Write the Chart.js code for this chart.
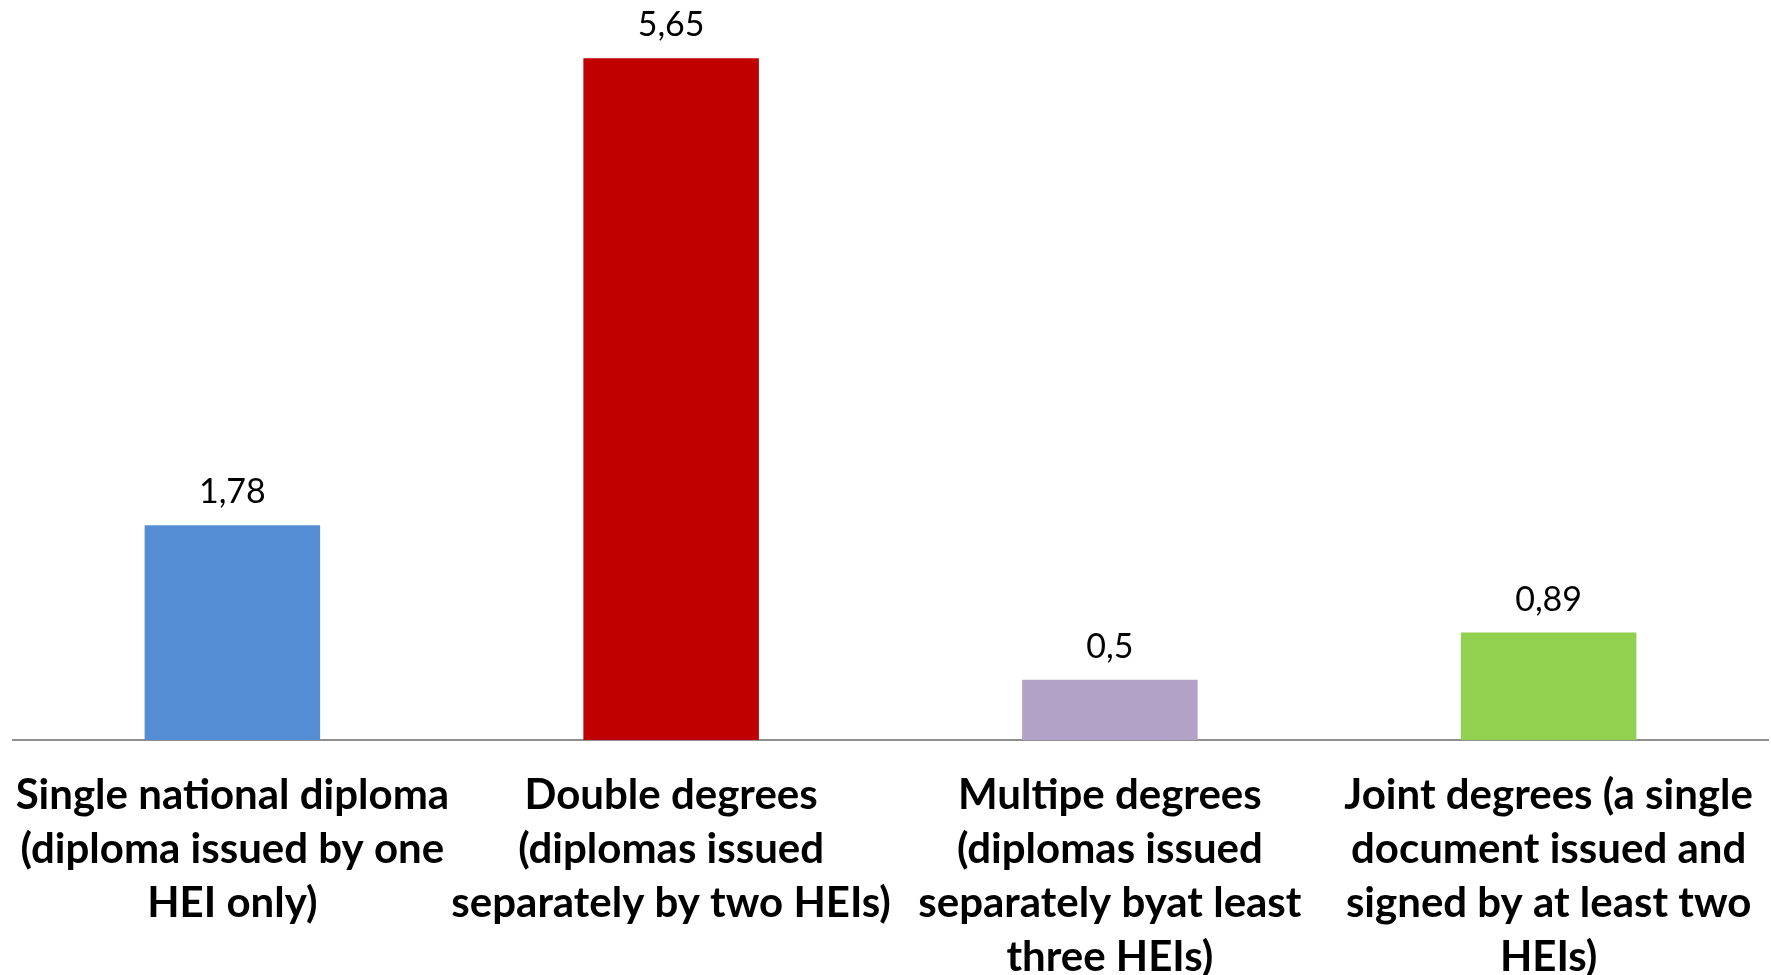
<!DOCTYPE html>
<html>
<head>
<meta charset="utf-8">
<script src="https://cdn.jsdelivr.net/npm/chart.js@4.4.0/dist/chart.umd.min.js"></script>
<style>
    html, body { margin: 0; padding: 0; background: #fff; overflow: hidden; }
    #wrap { width: 1771px; height: 975px; }
</style>
</head>
<body>
<div id="wrap"><canvas id="degreeChart"></canvas></div>
<script>
const categories = [
    ['Single national diploma', '(diploma issued by one', 'HEI only)'],
    ['Double degrees', '(diplomas issued', 'separately by two HEIs)'],
    ['Multipe degrees', '(diplomas issued', 'separately byat least', 'three HEIs)'],
    ['Joint degrees (a single', 'document issued and', 'signed by at least two', 'HEIs)']
];
const values = [1.78, 5.65, 0.5, 0.89];
const barColors = ['#558ED5', '#C00000', '#B3A2C7', '#92D050'];
const yMax = 6;

const valueLabels = {
    id: 'valueLabels',
    afterDatasetsDraw(chart) {
        const ctx = chart.ctx;
        const meta = chart.getDatasetMeta(0);
        ctx.save();
        ctx.font = '34px Lato';
        ctx.fillStyle = '#000';
        ctx.textAlign = 'center';
        ctx.textBaseline = 'alphabetic';
        meta.data.forEach((bar, i) => {
            const text = String(values[i]).replace('.', ',');
            ctx.fillText(text, bar.x, bar.y - 22);
        });
        ctx.restore();
    }
};

document.addEventListener('DOMContentLoaded', () => {
    renderChart();
});

function renderChart() {
    const ctx = document.getElementById('degreeChart');
    new Chart(ctx, {
        type: 'bar',
        data: {
            labels: categories,
            datasets: [{
                data: values,
                backgroundColor: barColors,
                borderWidth: 0,
                barPercentage: 0.4,
                categoryPercentage: 1
            }]
        },
        options: {
            responsive: true,
            maintainAspectRatio: false,
            animation: false,
            layout: {
                padding: { top: 16, left: 13, right: 3, bottom: 0 }
            },
            plugins: {
                legend: { display: false },
                tooltip: { enabled: false }
            },
            scales: {
                x: {
                    grid: { display: false },
                    border: { color: '#8f8f8f', width: 2 },
                    ticks: {
                        color: '#000',
                        padding: 20,
                        maxRotation: 0,
                        autoSkip: false,
                        font: { family: 'Lato', size: 42, weight: 'bold', lineHeight: 54 / 42 }
                    },
                    afterFit(scale) {
                        // labels stay inside their category, no extra side room
                        scale.height = 235;
                        scale.paddingLeft = 0;
                        scale.paddingRight = 0;
                    }
                },
                y: {
                    display: false,
                    min: 0,
                    max: yMax
                }
            }
        },
        plugins: [valueLabels]
    });
}
</script>
</body>
</html>
